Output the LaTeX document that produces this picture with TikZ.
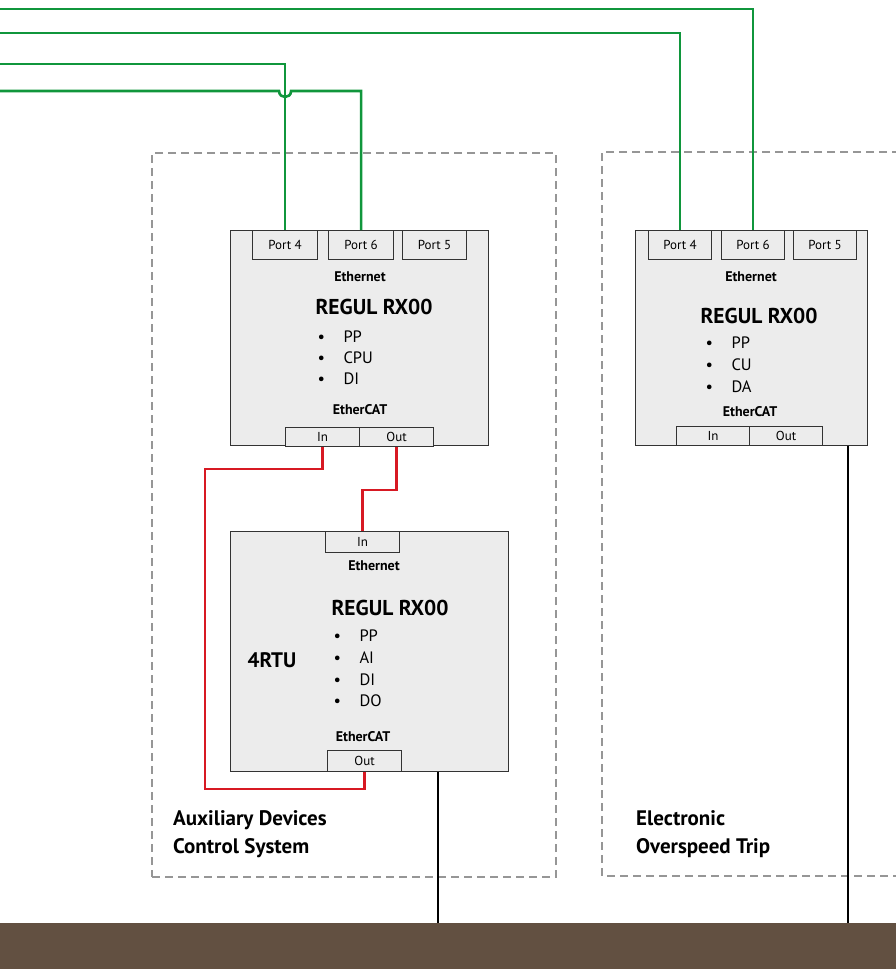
\documentclass[tikz,border=0pt]{standalone}
\usepackage{fontspec}
\setmainfont{PT Sans}

\definecolor{netgreen}{RGB}{16,150,60}
\definecolor{catred}{RGB}{215,25,35}
\definecolor{framegray}{RGB}{150,150,150}
\definecolor{boxfill}{RGB}{236,236,236}
\definecolor{floorbrown}{RGB}{98,80,65}

\begin{document}
\begin{tikzpicture}[x=1pt,y=-1pt,
  frame/.style={draw=framegray,line width=2.4pt,dash pattern=on 8pt off 5pt,anchor=north west,inner sep=0pt},
  module/.style={draw=black!80,fill=boxfill,line width=1.2pt,anchor=north west,inner sep=0pt},
  port/.style={draw=black!80,fill=boxfill,line width=1.1pt,anchor=north west,inner sep=0pt,
    minimum height=29pt,font=\fontsize{13}{13}\selectfont},
  catport/.style={draw=black!80,fill=boxfill,line width=1.1pt,anchor=north west,inner sep=0pt,
    minimum height=19pt,minimum width=74pt,font=\fontsize{13}{13}\selectfont},
  bus/.style={font=\bfseries\fontsize{14}{14}\selectfont},
  title/.style={font=\bfseries\fontsize{21.5}{21.5}\selectfont},
  entry/.style={anchor=west,font=\fontsize{16.5}{16.5}\selectfont},
  caption/.style={anchor=west,align=left,inner sep=0pt,font=\bfseries\fontsize{21}{28}\selectfont},
  eth/.style={netgreen,line width=2.6pt},
  cat/.style={catred,line width=2.6pt},
  drop/.style={black,line width=2.4pt}]

\useasboundingbox (0,0) rectangle (896,969);

% Floor bus
\node[fill=floorbrown,anchor=north west,inner sep=0pt,minimum width=896pt,minimum height=46pt] (floor) at (0,923) {};

% System frames
\node[frame,minimum width=404pt,minimum height=724pt] (aux) at (151,152) {};
\draw[framegray,line width=2.4pt,dash pattern=on 8pt off 5pt] (900,152) -- (602,152) -- (602,876) -- (900,876);
\node[caption] (auxname) at (173,834) {Auxiliary Devices\\Control System};
\node[caption] (eotname) at (636,834) {Electronic\\Overspeed Trip};

% Controller of auxiliary devices
\node[module,minimum width=258pt,minimum height=215pt] (ctrl) at (230,230) {};
\node[port,minimum width=65pt] (ctrl4) at (252,230) {Port 4};
\node[port,minimum width=65pt] (ctrl6) at (328,230) {Port 6};
\node[port,minimum width=64pt] (ctrl5) at (402,230) {Port 5};
\node[bus] (ctrleth) at (360,277) {Ethernet};
\node[title] (ctrltitle) at (374,307) {REGUL RX00};
\foreach \name [count=\i] in {PP,CPU,DI}
  \node[entry] (ctrl-\i) at (314,{337+21*(\i-1)}) {\makebox[26pt][l]{\textbullet}\name};
\node[bus] (ctrlcat) at (360,410) {EtherCAT};
\node[catport] (ctrlin) at (285,427) {In};
\node[catport] (ctrlout) at (359,427) {Out};

% Overspeed trip controller
\node[module,minimum width=232pt,minimum height=215pt] (trip) at (635,230) {};
\node[port,minimum width=63pt] (trip4) at (648,230) {Port 4};
\node[port,minimum width=63pt] (trip6) at (721,230) {Port 6};
\node[port,minimum width=63pt] (trip5) at (793,230) {Port 5};
\node[bus] (tripeth) at (751,277) {Ethernet};
\node[title] (triptitle) at (759,316) {REGUL RX00};
\foreach \name [count=\i] in {PP,CU,DA}
  \node[entry] (trip-\i) at (702,{343+22*(\i-1)}) {\makebox[26pt][l]{\textbullet}\name};
\node[bus] (tripcat) at (750,412) {EtherCAT};
\node[catport,minimum width=73pt] (tripin) at (676,426) {In};
\node[catport,minimum width=73pt] (tripout) at (749,426) {Out};

% Remote terminal unit
\node[module,minimum width=278pt,minimum height=240pt] (rtu) at (230,531) {};
\node[catport,minimum height=21pt] (rtuin) at (325,531) {In};
\node[bus] (rtueth) at (374,566) {Ethernet};
\node[title] (rtutitle) at (390,608) {REGUL RX00};
\node[font=\bfseries\fontsize{21}{21}\selectfont] (rtuname) at (272,660) {4RTU};
\foreach \name [count=\i] in {PP,AI,DI,DO}
  \node[entry] (rtu-\i) at (330,{636+21.7*(\i-1)}) {\makebox[26pt][l]{\textbullet}\name};
\node[bus] (rtucat) at (363,737) {EtherCAT};
\node[catport,minimum height=21pt] (rtuout) at (327,750) {Out};

% Ethernet lines
\coordinate (lan1) at (0,9);
\coordinate (lan2) at (0,33);
\coordinate (lan3) at (0,64);
\coordinate (lan4) at (0,91);
\draw[eth] (lan1) -- (lan1 -| trip6.north) -- (trip6.north);
\draw[eth] (lan2) -- (lan2 -| trip4.north) -- (trip4.north);
\draw[eth] (lan3) -- (lan3 -| ctrl4.north) -- (ctrl4.north);
\draw[eth] (lan4) -- ([xshift=-6pt]lan4 -| ctrl4.north)
  .. controls ([xshift=-6pt,yshift=-8pt]lan4 -| ctrl4.north) and ([xshift=6pt,yshift=-8pt]lan4 -| ctrl4.north)
  .. ([xshift=6pt]lan4 -| ctrl4.north) -- (lan4 -| ctrl6.north) -- (ctrl6.north);

% EtherCAT ring
\draw[cat] (ctrlin.south) -- ++(0,22) -| (205,789) -| (rtuout.south);
\draw[cat] (ctrlout.south) -- ++(0,43) -| (rtuin.north);

% Drops to the bus
\draw[drop] (rtu.south -| 438,0) -- (floor.north -| 438,0);
\draw[drop] (trip.south -| 848,0) -- (floor.north -| 848,0);

\end{tikzpicture}
\end{document}
